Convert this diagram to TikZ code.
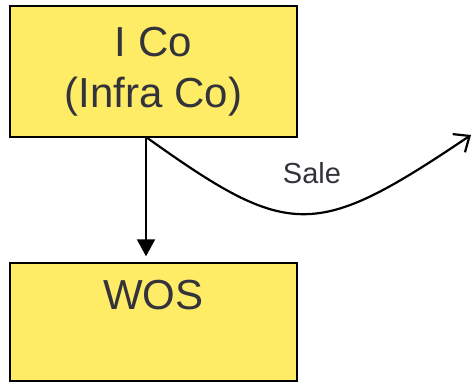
\documentclass[tikz,border=0pt]{standalone}
\usepackage{fontspec}
\setmainfont{Liberation Sans}
\usetikzlibrary{arrows.meta, positioning}
\definecolor{boxyellow}{HTML}{FFEC66}
\definecolor{textgray}{HTML}{33333B}

\begin{document}
\begin{tikzpicture}[x=1pt, y=-1pt]
	\tikzstyle{entity} = [
	shape=rectangle,
	draw=black, %border of the box
	fill=boxyellow, %yellow fill
	line width=1.4pt,
	minimum width=287pt,
	inner sep=0pt
];
	\tikzstyle{boxtext} = [
	text=textgray,
	font=\fontsize{42}{51}\selectfont,
	align=center,
	inner sep=0pt
];
	\useasboundingbox (0,0) rectangle (473,383);

\begin{scope}
	\node[entity, minimum height=131pt](ico) at (153.5,71.5) {};
	\node[boxtext](icotext) at (ico.center) {I Co\\(Infra Co)};
	\node[entity, minimum height=118pt](wos) at (153.5,322) {};
	\node[boxtext, below=18pt of wos.north](wostext) {WOS};
\end{scope}

\coordinate (split) at (146,137);
\coordinate (buyer) at (471,135);
\coordinate (wostop) at ([yshift=6pt]split |- wos.north);
\node[text=textgray, font=\fontsize{29}{34}\selectfont, inner sep=0pt](sale) at (312,173) {Sale};

%ownership
\draw[-{Triangle[length=17pt,width=18pt]}, line width=2pt, color=black]
	(split) -- (wostop)
;

%sale
\draw[-{Straight Barb[length=13pt,width=22pt]}, line width=2.2pt, color=black]
	(split) .. controls (290,240) and (315,240) .. (buyer)
;
\end{tikzpicture}
\end{document}
